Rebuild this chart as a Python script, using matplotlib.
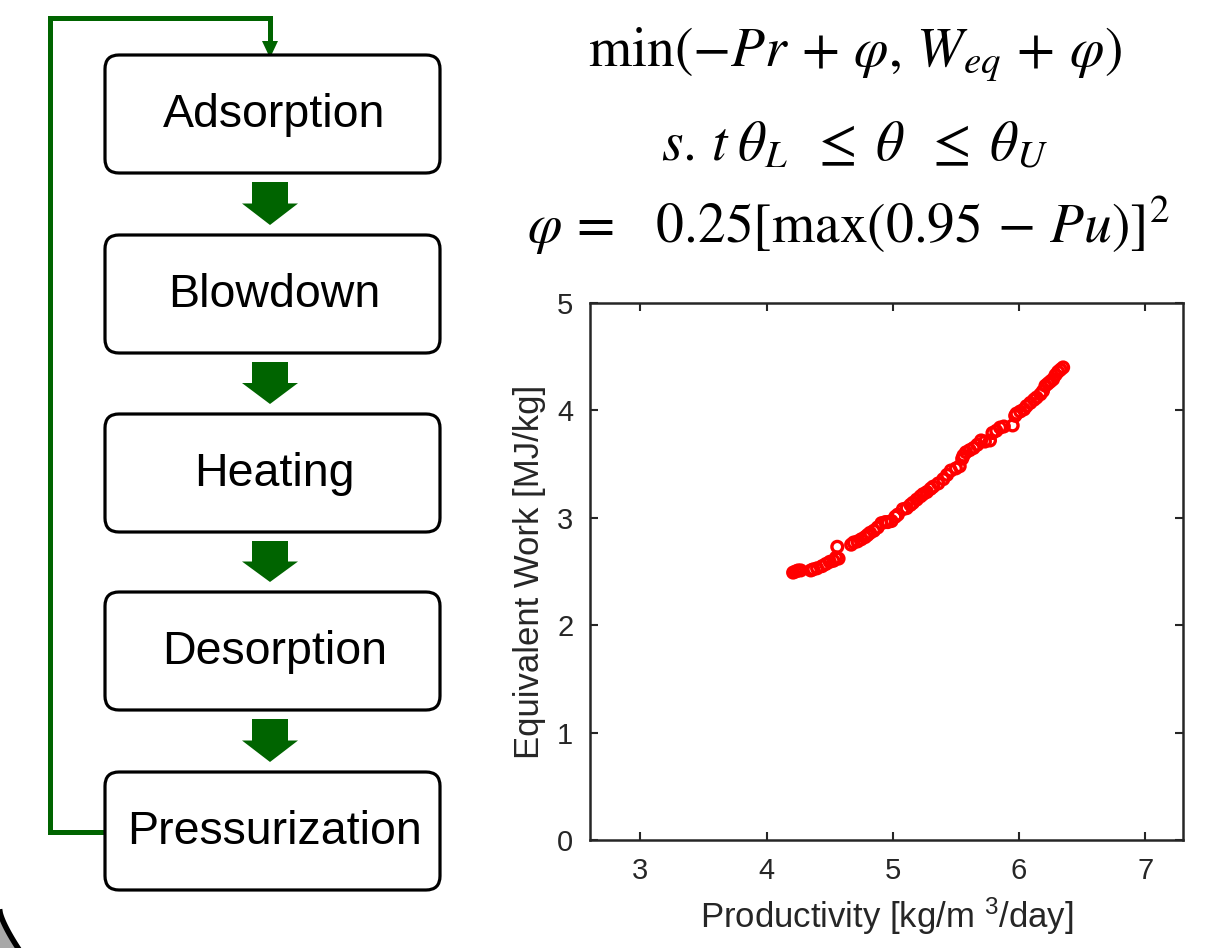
import matplotlib
matplotlib.use("Agg")
import matplotlib.pyplot as plt
from matplotlib.patches import FancyBboxPatch, Polygon
import numpy as np

# ---------------- data ----------------
steps = ["Adsorption", "Blowdown", "Heating", "Desorption", "Pressurization"]

productivity = [4.21, 4.23, 4.25, 4.27, 4.35, 4.37, 4.40, 4.44, 4.47, 4.50, 4.53,
                4.55, 4.56, 4.57, 4.67, 4.69, 4.72, 4.75, 4.78, 4.80, 4.82, 4.85,
                4.88, 4.91, 4.94, 4.96, 4.99, 5.02, 5.04, 5.08, 5.11, 5.14, 5.16,
                5.19, 5.22, 5.24, 5.27, 5.30, 5.32, 5.36, 5.40, 5.43, 5.46, 5.50,
                5.53, 5.55, 5.56, 5.58, 5.61, 5.64, 5.67, 5.70, 5.73, 5.77, 5.79,
                5.82, 5.85, 5.88, 5.95, 5.97, 5.98, 6.01, 6.04, 6.06, 6.09, 6.12,
                6.14, 6.17, 6.19, 6.21, 6.23, 6.25, 6.27, 6.29, 6.31, 6.33, 6.35]
eq_work = [2.49, 2.50, 2.51, 2.51, 2.51, 2.52, 2.53, 2.55, 2.57, 2.59, 2.60,
           2.63, 2.73, 2.62, 2.75, 2.77, 2.78, 2.80, 2.82, 2.84, 2.86, 2.88,
           2.91, 2.95, 2.96, 2.96, 2.97, 3.01, 3.03, 3.08, 3.09, 3.12, 3.14,
           3.17, 3.20, 3.22, 3.24, 3.27, 3.29, 3.32, 3.36, 3.40, 3.44, 3.46,
           3.48, 3.55, 3.58, 3.61, 3.63, 3.65, 3.68, 3.72, 3.71, 3.72, 3.79,
           3.81, 3.84, 3.85, 3.86, 3.95, 3.97, 3.99, 4.01, 4.04, 4.07, 4.10,
           4.12, 4.15, 4.18, 4.23, 4.25, 4.27, 4.29, 4.33, 4.36, 4.38, 4.40]

x_ticks = [3, 4, 5, 6, 7]
y_ticks = [0, 1, 2, 3, 4, 5]

W, H = 1231, 948
plt.rcParams["mathtext.fontset"] = "stix"
fig = plt.figure(figsize=(W / 100, H / 100), dpi=100)
fig.patch.set_facecolor("white")

# ---------------- background / flowchart axes (pixel coords) ----------------
bg = fig.add_axes([0, 0, 1, 1])
bg.set_xlim(0, W)
bg.set_ylim(H, 0)
bg.axis("off")

green = "#006400"
box_left, box_right = 105, 440
box_tops = [55, 235, 414, 592, 772]
box_h = 118
for name, top in zip(steps, box_tops):
    p = FancyBboxPatch((box_left, top), box_right - box_left, box_h,
                       boxstyle="round,pad=0,rounding_size=14",
                       fc="white", ec="black", lw=2.3, zorder=3)
    bg.add_patch(p)
    bg.text((box_left + box_right) / 2 + 2, top + box_h / 2 + 1, name,
            ha="center", va="center", fontsize=33.5, family="Liberation Sans",
            color="black", zorder=4)

# block arrows between boxes
cx = 270
for i in range(4):
    top = box_tops[i] + box_h + 9
    bottom = box_tops[i + 1] - 10
    mid = top + (bottom - top) * 0.5
    pts = [(cx - 18, top), (cx + 18, top), (cx + 18, mid), (cx + 28, mid),
           (cx, bottom), (cx - 28, mid), (cx - 18, mid)]
    bg.add_patch(Polygon(pts, closed=True, fc=green, ec="none", zorder=2))

# loop-back line
loop_x = 50
loop_y = 18
bg.plot([box_left, loop_x, loop_x, cx, cx],
        [832, 832, loop_y, loop_y, 44], color=green, lw=3.6,
        solid_joinstyle="miter", zorder=2)
bg.add_patch(Polygon([(cx - 8, 41), (cx + 8, 41), (cx, 58)], closed=True,
                     fc=green, ec="none", zorder=2))

# decorative corner arc bottom-left
t = np.linspace(0, 1, 50)
ax_ = 0 + 18 * t ** 1.3
ay_ = 912 + 36 * t
bg.fill_betweenx(ay_, 0, ax_, color="#a8a8a8", zorder=1)
bg.plot(ax_, ay_, color="black", lw=4, zorder=1)

# equations
eq_kw = dict(ha="center", va="center", fontsize=40, color="black")
bg.text(855, 55,
        r"$\mathrm{min}\left(-Pr\,+\,\varphi,\,W_{eq}\,+\,\varphi\right)$", **eq_kw)
bg.text(855, 145, r"$s.\,t\;\theta_L\;\;\leq\;\theta\;\;\leq\;\theta_U$", **eq_kw)
bg.text(848, 225,
        r"$\varphi\,=\;\;\;0.25[\mathrm{max}(0.95\,-\,Pu)]^2$", **eq_kw)

# ---------------- scatter axes ----------------
l, r_, tp, bt = 590, 1183, 303, 840
ax = fig.add_axes([l / W, 1 - bt / H, (r_ - l) / W, (bt - tp) / H])
ax.scatter(productivity, eq_work, s=60, facecolors="none", edgecolors="#ff0000",
           linewidths=2.4, zorder=3)
ax.set_xlim(2.6, 7.3)
ax.set_ylim(0, 5)
ax.set_xticks(x_ticks)
ax.set_yticks(y_ticks)
tick_col = "#262626"
ax.tick_params(direction="in", length=6, width=1.5, top=True, right=True,
               labelsize=21, colors=tick_col, pad=12)
for lab in ax.get_xticklabels() + ax.get_yticklabels():
    lab.set_family("Liberation Sans")
for s in ax.spines.values():
    s.set_linewidth(1.8)
    s.set_color(tick_col)
ax.set_xlabel(r"Productivity [kg/m $\mathregular{^{3}}$/day]", fontsize=25,
              family="Liberation Sans", color=tick_col, labelpad=8)
ax.set_ylabel("Equivalent Work [MJ/kg]", fontsize=25, family="Liberation Sans",
              color=tick_col, labelpad=8)

fig.savefig("out.png", dpi=100, facecolor="white")
